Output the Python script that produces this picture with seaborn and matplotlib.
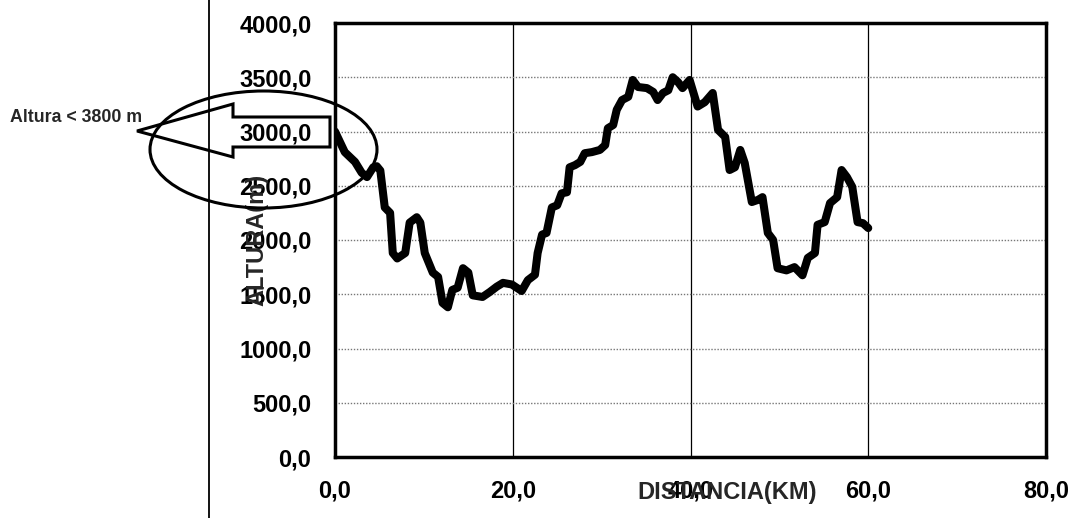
import matplotlib
matplotlib.use('Agg')
import matplotlib.pyplot as plt
import matplotlib.patches as mpatches
import matplotlib.lines as mlines
import seaborn as sns
import pandas as pd

# Perfil de altura a lo largo del recorrido
distancia = [0.0, 1.1, 2.25, 3.0, 3.6, 4.3, 4.7, 5.1, 5.6, 6.2,
             6.5, 7.0, 7.9, 8.4, 9.2, 9.6, 10.1, 11.0, 11.6, 12.1,
             12.7, 13.2, 13.8, 14.4, 15.0, 15.5, 16.6, 17.4, 18.2, 18.9,
             19.9, 21.0, 21.7, 22.5, 22.8, 23.3, 23.8, 24.4, 25.0, 25.5,
             26.1, 26.4, 27.0, 27.6, 28.1, 28.9, 29.8, 30.4, 30.7, 31.3,
             31.7, 32.3, 33.0, 33.5, 34.1, 35.1, 35.8, 36.3, 36.9, 37.5,
             38.0, 38.6, 39.1, 39.9, 40.8, 41.6, 42.5, 43.1, 43.9, 44.4,
             45.0, 45.6, 46.1, 46.9, 47.6, 48.1, 48.7, 49.3, 49.8, 50.8,
             51.7, 52.6, 53.2, 54.0, 54.3, 55.1, 55.7, 56.5, 57.0, 57.6,
             58.2, 58.8, 59.4, 60.0]
altura = [3000, 2810, 2720, 2620, 2580, 2670, 2680, 2640, 2300, 2250,
          1880, 1830, 1880, 2160, 2210, 2160, 1880, 1700, 1660, 1420,
          1380, 1540, 1560, 1740, 1700, 1490, 1475, 1520, 1570, 1605,
          1590, 1530, 1630, 1680, 1880, 2050, 2065, 2300, 2320, 2430,
          2440, 2670, 2690, 2720, 2800, 2810, 2830, 2875, 3030, 3060,
          3200, 3290, 3320, 3475, 3410, 3400, 3365, 3290, 3355, 3380,
          3500, 3455, 3400, 3475, 3230, 3270, 3355, 3015, 2950, 2645,
          2670, 2830, 2710, 2350, 2370, 2395, 2065, 2000, 1740, 1720,
          1750, 1675, 1835, 1880, 2140, 2165, 2340, 2395, 2645, 2580,
          2490, 2165, 2155, 2110]

x_ticks = [0, 20, 40, 60, 80]
y_ticks = [0, 500, 1000, 1500, 2000, 2500, 3000, 3500, 4000]
nota = 'Altura < 3800 m'

df = pd.DataFrame({'DISTANCIA(KM)': distancia, 'ALTURA(m)': altura})

sns.set_style('white')
plt.rcParams['font.family'] = ['Liberation Sans', 'DejaVu Sans']

W, H = 1071, 518
fig = plt.figure(figsize=(W / 100, H / 100), dpi=100)
ax = fig.add_axes([335 / W, 1 - 457 / H, 711 / W, 434 / H])

sns.lineplot(data=df, x='DISTANCIA(KM)', y='ALTURA(m)', ax=ax,
             color='black', lw=5.8, sort=False, estimator=None, zorder=3)

ax.set_xlim(0, 80)
ax.set_ylim(0, 4000)
ax.set_xticks(x_ticks)
ax.set_yticks(y_ticks)
ax.set_xticklabels([f'{v:.1f}'.replace('.', ',') for v in x_ticks])
ax.set_yticklabels([f'{v:.1f}'.replace('.', ',') for v in y_ticks])
ax.tick_params(axis='both', length=3, width=1, color='black', labelsize=17,
               labelcolor='black', direction='out')
ax.tick_params(axis='x', pad=13)
ax.tick_params(axis='y', pad=14)
for lab in ax.get_xticklabels() + ax.get_yticklabels():
    lab.set_fontweight('bold')

ax.xaxis.grid(True, color='black', lw=0.9, ls='-')
ax.yaxis.grid(True, color='#777777', lw=1.0, ls=(0, (1, 1.2)))
for s in ax.spines.values():
    s.set_visible(True)
    s.set_color('black')
    s.set_linewidth(2.5)

ax.set_xlabel('DISTANCIA(KM)', fontsize=17, fontweight='bold')
ax.set_ylabel('ALTURA(m)', fontsize=17, fontweight='bold')
ax.xaxis.label.set_va('center')
ax.xaxis.set_label_coords((727 - 335) / 711, -(492 - 457) / 434)
ax.yaxis.label.set_va('center')
ax.yaxis.label.set_ha('center')
ax.yaxis.set_label_coords((257 - 335) / 711, 0.5)

# linea vertical del borde izquierdo
fig.add_artist(mlines.Line2D([209 / W, 209 / W], [0, 1], color='black',
                             lw=1.3, transform=fig.transFigure))

# elipse y flecha de la anotacion
def fx(px):
    return px / W

def fy(py):
    return 1 - py / H

elipse = mpatches.Ellipse((fx(263.5), fy(149.5)), 227 / W, 117 / H,
                          fill=False, ec='black', lw=2.2,
                          transform=fig.transFigure, zorder=5)
fig.add_artist(elipse)
flecha_px = [(330, 117), (233, 117), (233, 104), (137, 131),
             (233, 157), (233, 147), (330, 147)]
flecha = mpatches.Polygon([(fx(a), fy(b)) for a, b in flecha_px], closed=True,
                          fill=False, ec='black', lw=2.2,
                          transform=fig.transFigure, zorder=5)
fig.add_artist(flecha)
fig.text(fx(10), fy(118), nota, fontsize=12.8, fontweight='bold',
         ha='left', va='center')

fig.savefig('out.png', dpi=100, facecolor='white')
